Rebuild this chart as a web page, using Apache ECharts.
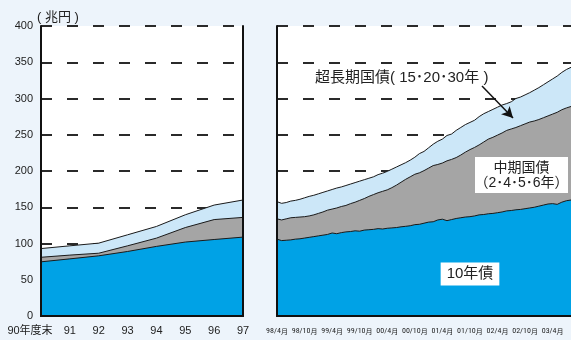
<!DOCTYPE html>
<html>
<head>
<meta charset="utf-8">
<script src="https://cdn.jsdelivr.net/npm/echarts@6/dist/echarts.min.js"></script>
<style>
  html, body { margin: 0; padding: 0; background: #EDF4FB; }
  #chart { width: 571px; height: 340px; }
</style>
</head>
<body>
<div id="chart"></div>
<script>
// 年度末残高（兆円）：累積値（10年債 → +中期国債 → +超長期国債）
const leftYears = ['90年度末', '91', '92', '93', '94', '95', '96', '97'];
const leftTenYear = [74.7, 78.8, 83, 89, 96, 102, 105.5, 108.8];
const leftThroughMedium = [81, 84, 86.6, 96.8, 107.4, 122, 133, 136];
const leftTotal = [93, 96.8, 100.5, 112, 123.5, 139.6, 153, 160];

// 月末残高（98年4月〜03年8月）
const monthStart = { year: 1998, month: 4 };
const monthCount = 65;
const rightTenYear = [
  106, 104, 104.5, 105, 106, 106.5, 107.5, 108.5, 109.5, 110.5,
  111.5, 112.5, 114.5, 113.5, 115, 116, 116.5, 117.5, 117, 118.5,
  119, 119.5, 120.5, 120, 121, 121.5, 122, 123, 123.7, 124.5,
  126, 126.5, 128, 129.5, 130, 132.5, 133.5, 131.5, 133, 134.5,
  135.5, 136.5, 137, 138, 139.5, 140, 141, 141.5, 142.5, 143.5,
  145, 145.5, 146.5, 147, 148, 149, 150, 151.5, 153, 154.5,
  155, 154, 157, 159, 160
];
const rightThroughMedium = [
  134, 132.5, 134, 135.5, 136, 136.5, 137, 138, 139.5, 141.5,
  143.5, 146, 147.5, 149, 151, 152.5, 155, 157, 159.5, 162,
  165, 167.5, 170, 172, 174, 177, 180.5, 184.5, 188.5, 192,
  195.5, 197.5, 200.5, 204, 207.5, 209, 211, 214, 216, 218.5,
  222, 226, 229.5, 232.5, 236, 240, 244, 246.5, 249.5, 252.5,
  256, 258, 260, 262.5, 265, 267.5, 269, 271, 273.5, 276,
  278.5, 281, 284.5, 287, 289
];
const rightTotal = [
  157.7, 155.4, 156.5, 158.5, 159.5, 161, 163, 165, 166.5, 168.5,
  170.5, 172.5, 174.5, 176.5, 178, 180, 182, 184, 186, 188,
  190, 192, 195, 197, 199.5, 202.5, 205.5, 208.5, 211.5, 215,
  219, 224, 227, 232, 237, 241, 244, 249, 251, 256,
  260, 264, 267, 270, 275, 279, 282, 285, 288, 291,
  293, 295.5, 300, 302, 305, 308, 311.5, 315, 319, 323,
  327, 331, 336, 340, 343
];

const yMin = 0, yMax = 400, yStep = 50;
const seriesNames = ['超長期国債', '中期国債', '10年債'];

// 月ラベル "98/4月" 形式
const months = [];
for (let i = 0; i < monthCount; i++) {
  const t = monthStart.month - 1 + i;
  const y = (monthStart.year + Math.floor(t / 12)) % 100;
  const m = (t % 12) + 1;
  months.push(String(y).padStart(2, '0') + '/' + m + '月');
}

const COLORS = { long: '#CCE7F8', medium: '#A5A5A5', ten: '#00A2E6' };
const EDGE = { color: '#1a1a1a', width: 1 };
const FONT = '"Liberation Sans", "Noto Sans CJK JP", sans-serif';
const NARROW = '"Roboto Condensed", "Liberation Sans", sans-serif';
const BORDER = { lineStyle: { color: '#111', width: 2 } };
const DASH = { show: true, lineStyle: { color: '#2a2a2a', width: 2, type: [11, 15] } };

function area(name, data, color, xi, yi, extra) {
  return Object.assign({
    name, type: 'line', data, xAxisIndex: xi, yAxisIndex: yi,
    symbol: 'none', silent: true, animation: false,
    lineStyle: EDGE, areaStyle: { color, opacity: 1 }
  }, extra || {});
}

const chart = echarts.init(document.getElementById('chart'), null, { renderer: 'canvas' });

chart.setOption({
  backgroundColor: '#EDF4FB',
  animation: false,
  textStyle: { fontFamily: FONT },
  grid: [
    { left: 41, right: 328, top: 26, bottom: 24, show: true, backgroundColor: '#fff', borderWidth: 0 },
    { left: 277, right: -7, top: 26, bottom: 24, show: true, backgroundColor: '#fff', borderWidth: 0 }
  ],
  xAxis: [
    {
      gridIndex: 0, type: 'category', data: leftYears, boundaryGap: false, z: 10,
      axisLine: BORDER, axisTick: { show: false }, splitLine: { show: false },
      axisLabel: {
        interval: 0, margin: 9, fontSize: 11, color: '#222', fontFamily: FONT,
        formatter: (v, i) => i === 0 ? '{first|' + v + '}' : v,
        rich: { first: { fontSize: 11, color: '#222', fontFamily: FONT, padding: [0, 22, 0, 0] } }
      }
    },
    {
      gridIndex: 0, type: 'category', data: leftYears, boundaryGap: false, position: 'top', z: 10,
      axisLine: BORDER, axisTick: { show: false }, axisLabel: { show: false }, splitLine: { show: false }
    },
    {
      gridIndex: 1, type: 'category', data: months, boundaryGap: false, z: 10,
      axisLine: BORDER, axisTick: { show: false }, splitLine: { show: false },
      axisLabel: {
        interval: 5, margin: 11, color: '#222',
        formatter: v => '{d|' + v.replace('月', '') + '}{m|月}',
        rich: {
          d: { fontSize: 8, color: '#222', fontFamily: NARROW },
          m: { fontSize: 7, color: '#222', fontFamily: '"Noto Sans CJK JP", sans-serif' }
        }
      }
    },
    {
      gridIndex: 1, type: 'category', data: months, boundaryGap: false, position: 'top', z: 10,
      axisLine: BORDER, axisTick: { show: false }, axisLabel: { show: false }, splitLine: { show: false }
    }
  ],
  yAxis: [
    {
      gridIndex: 0, type: 'value', min: yMin, max: yMax, interval: yStep, position: 'left',
      name: '( 兆円 )', nameLocation: 'end', nameGap: 2,
      nameTextStyle: { fontSize: 13, color: '#222', fontFamily: FONT, padding: [0, 0, 0, 34] },
      axisLine: { show: false }, axisTick: { show: false },
      axisLabel: { fontSize: 11, color: '#222', margin: 8, fontFamily: FONT },
      splitLine: DASH
    },
    {
      gridIndex: 0, type: 'value', min: yMin, max: yMax, interval: yStep, position: 'left', z: 10,
      axisLine: Object.assign({ show: true }, BORDER), axisTick: { show: false },
      axisLabel: { show: false }, splitLine: { show: false }
    },
    {
      gridIndex: 0, type: 'value', min: yMin, max: yMax, interval: yStep, position: 'right', z: 10,
      axisLine: Object.assign({ show: true }, BORDER), axisTick: { show: false },
      axisLabel: { show: false }, splitLine: { show: false }
    },
    {
      gridIndex: 1, type: 'value', min: yMin, max: yMax, interval: yStep, position: 'left',
      axisLine: { show: false }, axisTick: { show: false },
      axisLabel: { show: false }, splitLine: DASH
    },
    {
      gridIndex: 1, type: 'value', min: yMin, max: yMax, interval: yStep, position: 'left', z: 10,
      axisLine: Object.assign({ show: true }, BORDER), axisTick: { show: false },
      axisLabel: { show: false }, splitLine: { show: false }
    }
  ],
  series: [
    area(seriesNames[0], leftTotal, COLORS.long, 0, 0),
    area(seriesNames[1], leftThroughMedium, COLORS.medium, 0, 0),
    area(seriesNames[2], leftTenYear, COLORS.ten, 0, 0),
    area(seriesNames[0], rightTotal, COLORS.long, 2, 3, {
      markLine: {
        silent: true, animation: false,
        symbol: ['none', 'arrow'], symbolSize: [9, 11],
        label: { show: false },
        lineStyle: { color: '#111', width: 1.5, type: 'solid' },
        data: [[{ x: 482, y: 86 }, { x: 513, y: 118 }]]
      }
    }),
    area(seriesNames[1], rightThroughMedium, COLORS.medium, 2, 3),
    area(seriesNames[2], rightTenYear, COLORS.ten, 2, 3)
  ],
  graphic: [
    {
      type: 'text', x: 315, y: 78, z: 20, silent: true,
      style: {
        text: '超長期国債( 15･20･30年 )', font: '15px ' + FONT, fill: '#222',
        align: 'left', verticalAlign: 'middle'
      }
    },
    {
      type: 'rect', z: 19, silent: true,
      shape: { x: 475, y: 157, width: 93, height: 36 },
      style: { fill: '#fff' }
    },
    {
      type: 'text', x: 521.5, y: 168, z: 20, silent: true,
      style: {
        text: '中期国債', font: '14px ' + FONT, fill: '#222',
        align: 'center', verticalAlign: 'middle'
      }
    },
    {
      type: 'text', x: 521.5, y: 183, z: 20, silent: true,
      style: {
        text: '（2･4･5･6年）', font: '14px ' + FONT, fill: '#222',
        align: 'center', verticalAlign: 'middle'
      }
    },
    {
      type: 'text', x: 470, y: 274, z: 20, silent: true,
      style: {
        text: '10年債', font: '15px ' + FONT, fill: '#222',
        align: 'center', verticalAlign: 'middle',
        backgroundColor: '#fff', padding: [4, 6, 4, 6]
      }
    }
  ]
});
</script>
</body>
</html>
